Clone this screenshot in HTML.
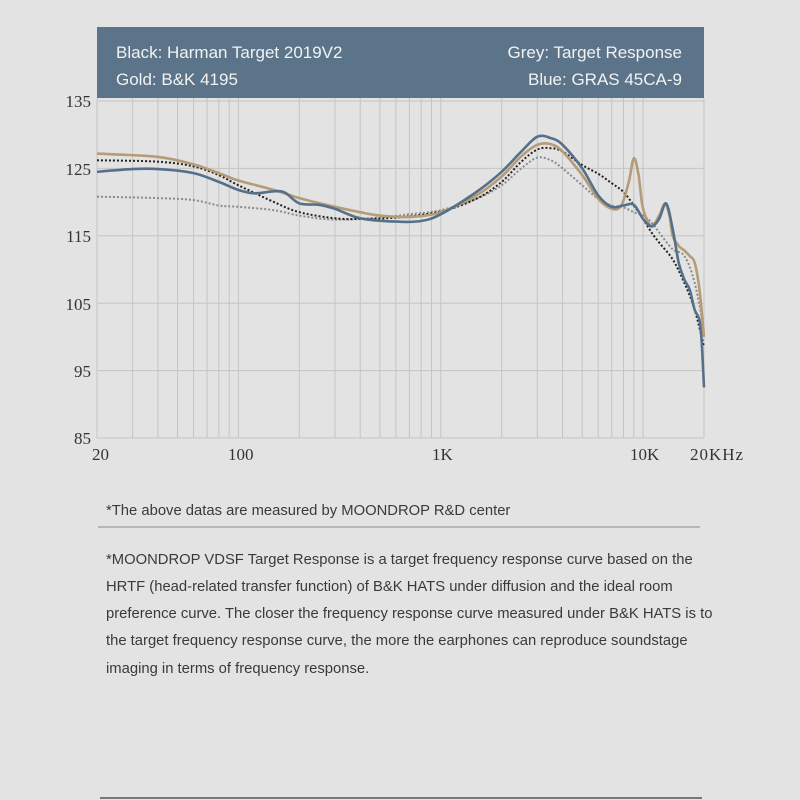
<!DOCTYPE html>
<html><head><meta charset="utf-8"><style>
html,body{margin:0;padding:0;background:#e2e3e2;}
body{width:800px;height:800px;position:relative;overflow:hidden;font-family:"Liberation Sans",sans-serif;}
.t{position:absolute;left:106px;color:#3a3a3a;font-size:14.8px;white-space:nowrap;}
</style></head><body>
<svg id="s" width="800" height="800" style="position:absolute;left:0;top:0">
<rect x="97" y="27" width="607" height="71" fill="#5b7489"/>
<g font-family="Liberation Sans, sans-serif" font-size="17" fill="#f2f2f2">
<text x="116" y="58">Black: Harman Target 2019V2</text>
<text x="116" y="85">Gold: B&amp;K 4195</text>
<text x="682" y="58" text-anchor="end">Grey: Target Response</text>
<text x="682" y="85" text-anchor="end">Blue: GRAS 45CA-9</text>
</g>
<g id="grid" stroke="#c4c5c4" stroke-width="1" fill="none"></g>
<g font-family="Liberation Serif, serif" font-size="17" fill="#333">
<text x="91" y="107" text-anchor="end">135</text>
<text x="91" y="175" text-anchor="end">125</text>
<text x="91" y="242" text-anchor="end">115</text>
<text x="91" y="310" text-anchor="end">105</text>
<text x="91" y="377" text-anchor="end">95</text>
<text x="91" y="444" text-anchor="end">85</text>
<text x="92" y="460">20</text>
<text x="228" y="460">100</text>
<text x="432" y="460">1K</text>
<text x="630" y="460">10K</text>
<text x="690" y="460" letter-spacing="1">20KHz</text>
</g>
<g id="curves" fill="none" stroke-linejoin="round"></g>
<line x1="98" y1="527" x2="700" y2="527" stroke="#8a8a8a" stroke-width="1"/>
<line x1="100" y1="798" x2="702" y2="798" stroke="#555" stroke-width="1.5"/>
</svg>
<div class="t" style="top:503px">*The above datas are measured by MOONDROP R&amp;D center</div>
<div class="t" style="top:552px">*MOONDROP VDSF Target Response is a target frequency response curve based on the</div>
<div class="t" style="top:579px">HRTF (head-related transfer function) of B&amp;K HATS under diffusion and the ideal room</div>
<div class="t" style="top:606px">preference curve. The closer the frequency response curve measured under B&amp;K HATS is to</div>
<div class="t" style="top:633px">the target frequency response curve, the more the earphones can reproduce soundstage</div>
<div class="t" style="top:661px">imaging in terms of frequency response.</div>
<script>
var NS="http://www.w3.org/2000/svg";
function X(f){return 97+607*Math.log10(f/20)/3;}
function Y(d){return 101+(135-d)*6.74;}
var g=document.getElementById('grid');
function ln(x1,y1,x2,y2){var l=document.createElementNS(NS,'line');l.setAttribute('x1',x1);l.setAttribute('y1',y1);l.setAttribute('x2',x2);l.setAttribute('y2',y2);g.appendChild(l);}
[135,125,115,105,95,85].forEach(function(d){ln(97,Y(d),704,Y(d));});
[20,30,40,50,60,70,80,90,100,200,300,400,500,600,700,800,900,1000,2000,3000,4000,5000,6000,7000,8000,9000,10000,20000].forEach(function(f){ln(X(f),98,X(f),438);});
function path(pts,color,w,dash){
 var p=pts.map(function(a){return [X(a[0]),Y(a[1])];});
 var d="M"+p[0][0].toFixed(1)+","+p[0][1].toFixed(1);
 for(var i=0;i<p.length-1;i++){
  var p0=p[i-1]||p[i],p1=p[i],p2=p[i+1],p3=p[i+2]||p2;
  var c1=[p1[0]+(p2[0]-p0[0])/6,p1[1]+(p2[1]-p0[1])/6];
  var c2=[p2[0]-(p3[0]-p1[0])/6,p2[1]-(p3[1]-p1[1])/6];
  d+=" C"+c1[0].toFixed(1)+","+c1[1].toFixed(1)+" "+c2[0].toFixed(1)+","+c2[1].toFixed(1)+" "+p2[0].toFixed(1)+","+p2[1].toFixed(1);
 }
 var e=document.createElementNS(NS,'path');e.setAttribute('d',d);e.setAttribute('stroke',color);e.setAttribute('stroke-width',w);
 if(dash)e.setAttribute('stroke-dasharray',dash);
 document.getElementById('curves').appendChild(e);
}
path([[20,120.8],[40,120.6],[60,120.3],[80,119.5],[100,119.3],[150,118.8],[200,118],[300,117.4],[500,117.7],[700,118.2],[1000,118.8],[1500,120.5],[2000,122.5],[2500,125],[3000,126.6],[3500,126.2],[4000,125],[5000,122.5],[6000,120.5],[7000,119.5],[8000,119.2],[9000,118.5],[10000,118],[11000,117],[12000,115.5],[14000,113],[16000,112],[18000,108],[20000,101]],'#8a8a8a',2,'2,2');
path([[20,126.2],[40,126],[60,125.3],[80,124],[100,122.5],[150,120],[200,118.5],[300,117.6],[400,117.5],[600,117.7],[1000,118.6],[1500,120.5],[2000,123],[2500,126],[3000,127.8],[3500,128],[4000,127.5],[5000,125.5],[6000,124.2],[7000,122.8],[8000,121.5],[9000,119.5],[10000,117.5],[11000,115.5],[12000,114],[14000,111.5],[16000,108],[18000,104],[20000,98.5]],'#222',2,'2,2');
path([[20,127.2],[40,126.7],[60,125.6],[80,124.3],[100,123.2],[150,121.8],[200,120.6],[300,119.3],[400,118.5],[500,118],[700,117.8],[1000,118.5],[1500,121],[2000,123.8],[2500,126.8],[3000,128.5],[3500,128.6],[4000,127.5],[5000,124],[6000,120.5],[7000,119],[7800,119.5],[8500,123],[9000,126.5],[9500,124],[10000,119],[11000,116.5],[12000,118],[12800,119.7],[13500,118],[14000,115],[15000,113.5],[16000,112.8],[17000,112],[18000,111],[19000,107],[20000,100]],'#b59b76',2.6);
path([[20,124.5],[30,124.9],[40,124.9],[60,124.3],[80,123],[100,121.8],[120,121.3],[150,121.6],[170,121.4],[200,119.8],[250,119.6],[300,119],[400,117.6],[600,117.1],[800,117.2],[1000,118.2],[1500,121.5],[2000,124.5],[2500,127.5],[3000,129.7],[3500,129.5],[4000,128.5],[5000,125],[6000,121],[7000,119.3],[8000,119.5],[9000,119.6],[10000,117.5],[11000,116.4],[12000,117.5],[13000,119.8],[14000,116],[15000,111],[16000,108.5],[17000,107],[18000,104],[19000,102.5],[19500,99],[20000,92.5]],'#56708a',2.6);
</script>
</body></html>
